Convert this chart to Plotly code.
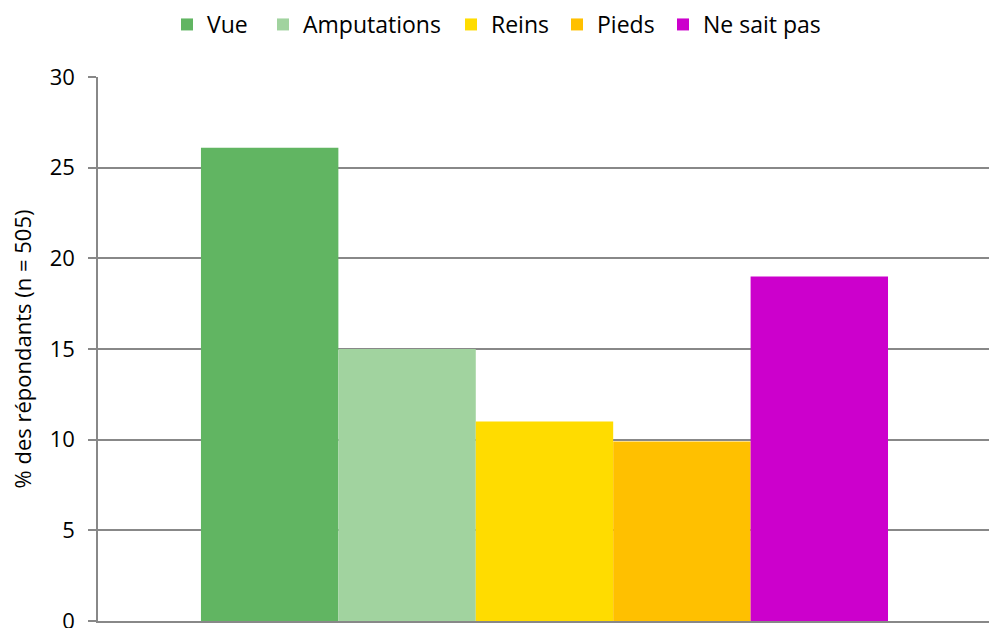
import plotly.graph_objects as go

series = ["Vue", "Amputations", "Reins", "Pieds", "Ne sait pas"]
values = [26.1, 15.0, 11.0, 9.9, 19.0]
colors = ["#61B562", "#A1D39F", "#FFDC00", "#FFC000", "#CC00CC"]
category = [""]
y_ticks = [0, 5, 10, 15, 20, 25, 30]

# layout: left pixel of each legend entry text in the page
legend_text_px = [207, 303, 491, 597, 703]

W, H = 989, 628
fig = go.Figure()
legend_layouts = {}
for i, (name, v, c) in enumerate(zip(series, values, colors)):
    key = "legend" if i == 0 else f"legend{i + 1}"
    fig.add_trace(go.Bar(x=category, y=[v], name=name, legend=key,
                         marker=dict(color=c, line=dict(width=0))))
    legend_layouts[key] = dict(orientation="h", xref="container", yref="container",
                               x=(legend_text_px[i] - 40) / W, xanchor="left",
                               y=1 - 3 / H, yanchor="top",
                               font=dict(family="Open Sans", size=23, color="#000000"),
                               bgcolor="rgba(0,0,0,0)", itemwidth=30)

FONT = "Open Sans"
fig.update_layout(
    width=W, height=H,
    barmode="group", bargap=0.2306, bargroupgap=0,
    plot_bgcolor="white", paper_bgcolor="white",
    margin=dict(l=98, r=0, t=77, b=7, autoexpand=False),
    font=dict(family=FONT, size=22, color="#000000"),
    showlegend=True,
    **legend_layouts,
)
fig.update_xaxes(range=[-0.5, 0.4978], showticklabels=False, showgrid=False,
                 showline=True, linecolor="#888888", linewidth=1.5,
                 zeroline=False, ticks="", automargin=False)
fig.update_yaxes(range=[0, 30], tickvals=y_ticks, showgrid=True, gridcolor="#888888",
                 gridwidth=1.5, zeroline=False, showline=True, linecolor="#888888",
                 linewidth=1.5, ticks="outside", ticklen=8, tickcolor="#888888", tickwidth=1.5,
                 ticklabelstandoff=9, ticklabeloverflow="allow", automargin=False,
                 title=dict(text="% des répondants (n = 505)", font=dict(size=22), standoff=12),
                 tickfont=dict(size=22))
fig.write_html("out.html", config={"displayModeBar": False},
               post_script="document.body.style.margin='0';")
